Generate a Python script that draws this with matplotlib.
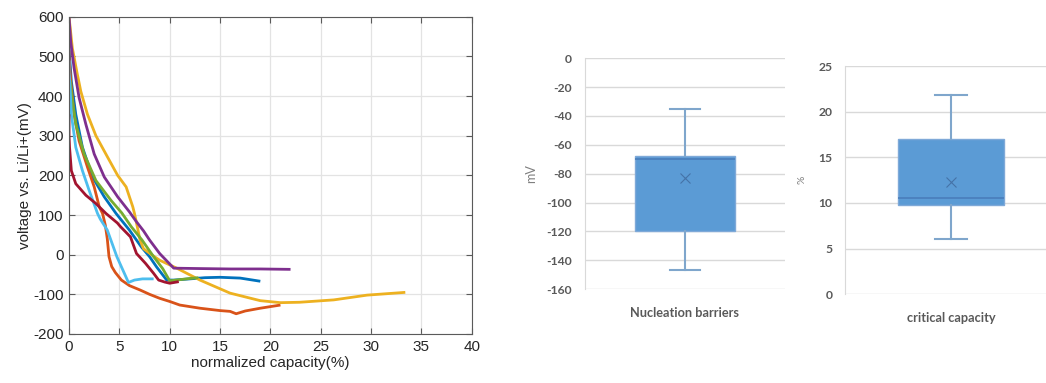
import numpy as np
import matplotlib
matplotlib.use("Agg")
import matplotlib.pyplot as plt

plt.rcParams["axes.unicode_minus"] = False

# ---- curve data (normalized capacity %, voltage mV)
blue_x = [0.0, 0.0, 0.23, 0.67, 1.33, 2.33, 3.5, 4.67, 6.0, 7.2, 8.0, 8.7, 9.7, 10.4, 12.0, 13.5, 15.0, 17.0, 19.0]
blue_y = [552, 520, 437, 354, 271, 196, 146, 104, 62, 19, -5, -31, -64, -64, -61, -58, -57, -59, -67]

orange_x = [0.0, 0.0, 0.17, 0.5, 1.0, 1.83, 2.5, 3.0, 3.33, 3.6, 3.8, 3.97, 4.24, 4.6, 5.2, 6.0, 7.05, 8.0, 9.0, 10.0, 11.0, 13.0, 15.0, 16.0, 16.6, 17.5, 19.0, 21.0]
orange_y = [515, 500, 437, 354, 287, 221, 171, 121, 104, 75, 40, -5, -30, -45, -64, -78, -89, -100, -110, -118, -127, -135, -141, -143, -149, -142, -135, -127]

yellow_x = [0.0, 0.33, 0.83, 0.9, 1.17, 1.83, 2.67, 3.83, 4.83, 5.67, 6.33, 6.5, 6.85, 7.05, 7.4, 8.2, 9.0, 10.7, 13.0, 16.0, 19.0, 21.0, 22.9, 26.3, 29.6, 33.4]
yellow_y = [600, 521, 454, 446, 412, 354, 300, 246, 200, 171, 121, 104, 62, 37, 15, 0, -14, -34, -64, -97, -116, -121, -120, -114, -102, -95]

purple_x = [0.0, 0.17, 0.5, 1.0, 1.67, 2.5, 3.5, 4.83, 6.0, 6.7, 7.4, 8.0, 9.0, 10.4, 13.0, 16.0, 19.0, 22.0]
purple_y = [600, 537, 471, 396, 329, 254, 196, 146, 108, 83, 60, 37, 3, -34, -35, -36, -36, -37]

green_x = [0.1, 0.25, 0.67, 1.5, 2.67, 4.17, 5.25, 6.2, 7.25, 8.4, 9.3, 10.0, 11.0, 12.0, 12.85]
green_y = [440, 405, 329, 254, 187, 137, 105, 70, 37, -5, -35, -66, -63, -60, -58]

lightblue_x = [0.0, 0.0, 0.07, 0.23, 0.67, 1.33, 2.0, 2.83, 3.1, 3.8, 4.75, 5.9, 6.5, 7.3, 8.4]
lightblue_y = [490, 460, 437, 354, 271, 212, 162, 104, 90, 62, -5, -70, -64, -61, -61]

darkred_x = [0.0, 0.0, 0.05, 0.23, 0.67, 1.67, 2.67, 3.67, 4.8, 5.1, 6.1, 6.7, 7.6, 8.4, 8.9, 9.5, 10.0, 10.9]
darkred_y = [354, 300, 271, 212, 179, 150, 129, 104, 80, 71, 45, 3, -22, -47, -64, -69, -72, -68]

# ---- box plot summaries
nuc_stats = dict(label="Nucleation barriers", whislo=-147, q1=-120, med=-70, q3=-68, whishi=-35, mean=-83, fliers=[])
cap_stats = dict(label="critical capacity", whislo=6.0, q1=9.8, med=10.5, q3=17.0, whishi=21.8, mean=12.3, fliers=[])

fig = plt.figure(figsize=(10.46, 3.83), dpi=100)

# ---------------- left: voltage curves (MATLAB look)
ax = fig.add_axes([0.066, 0.128, 0.385, 0.828])
curves = [
    (blue_x, blue_y, "#0072BD"),
    (orange_x, orange_y, "#D95319"),
    (yellow_x, yellow_y, "#EDB120"),
    (purple_x, purple_y, "#7E2F8E"),
    (green_x, green_y, "#77AC30"),
    (lightblue_x, lightblue_y, "#4DBEEE"),
    (darkred_x, darkred_y, "#A2142F"),
]
for xs, ys, col in curves:
    ax.plot(xs, ys, color=col, lw=2.0, solid_joinstyle="round", solid_capstyle="butt")

ax.set_xlim(0, 40)
ax.set_ylim(-200, 600)
ax.set_xticks(np.arange(0, 41, 5))
ax.set_yticks(np.arange(-200, 601, 100))
ax.grid(True, color="#e3e3e3", lw=0.9)
ax.set_axisbelow(True)
for s in ax.spines.values():
    s.set_color("#5a5a5a")
    s.set_linewidth(0.8)
ax.tick_params(direction="in", length=4, color="#5a5a5a", top=True, right=True,
               labelsize=11, labelcolor="#262626", pad=4)
ax.set_xlabel("normalized capacity(%)", fontsize=11, color="#262626", labelpad=2)
ax.set_ylabel("voltage vs. Li/Li+(mV)", fontsize=11, color="#262626", labelpad=1)
for t in ax.get_xticklabels() + ax.get_yticklabels():
    t.set_family("Liberation Sans")
ax.xaxis.label.set_family("Liberation Sans")
ax.yaxis.label.set_family("Liberation Sans")


# ---------------- right: Excel-style box plots
def excel_box(axb, stats, ylim, yticks, ylabel, labx, labsize):
    axb.bxp([stats], positions=[1], widths=0.5, showmeans=True, patch_artist=True,
            boxprops=dict(facecolor="#5B9BD5", edgecolor="#7FA9D8", lw=1.0),
            medianprops=dict(color="#4A7EBB", lw=1.2),
            whiskerprops=dict(color="#7FA6CC", lw=1.5),
            capprops=dict(color="#7FA6CC", lw=1.5),
            meanprops=dict(marker="x", markeredgecolor="#4573A8", markersize=7, markeredgewidth=0.8),
            capwidths=0.15)
    axb.set_xlim(0.5, 1.5)
    axb.set_ylim(*ylim)
    axb.set_yticks(yticks)
    axb.set_yticklabels([str(v) for v in yticks])
    axb.grid(True, axis="y", color="#d9d9d9", lw=1.0)
    axb.set_axisbelow(True)
    for k in ["top", "right", "bottom"]:
        axb.spines[k].set_visible(False)
    axb.spines["left"].set_color("#d9d9d9")
    axb.tick_params(axis="y", length=0, labelsize=8.7, labelcolor="#595959", pad=9)
    axb.tick_params(axis="x", length=0, labelsize=9.2, labelcolor="#595959", pad=13)
    axb.set_xticks([1])
    axb.set_xticklabels([stats["label"]])
    for t in axb.get_xticklabels() + axb.get_yticklabels():
        t.set_family("Lato")
        t.set_fontweight("bold")
    axb.set_ylabel(ylabel, fontsize=labsize, color="#7f7f7f", family="Lato")
    axb.yaxis.set_label_coords(labx, 0.5)


ax2 = fig.add_axes([0.559, 0.245, 0.191, 0.603])
excel_box(ax2, nuc_stats, (-160, 0), list(range(-160, 1, 20)), "mV", -0.24, 9)

ax3 = fig.add_axes([0.808, 0.232, 0.203, 0.595])
excel_box(ax3, cap_stats, (0, 25), list(range(0, 26, 5)), "%", -0.18, 7.5)

fig.savefig("out.png", dpi=100)
